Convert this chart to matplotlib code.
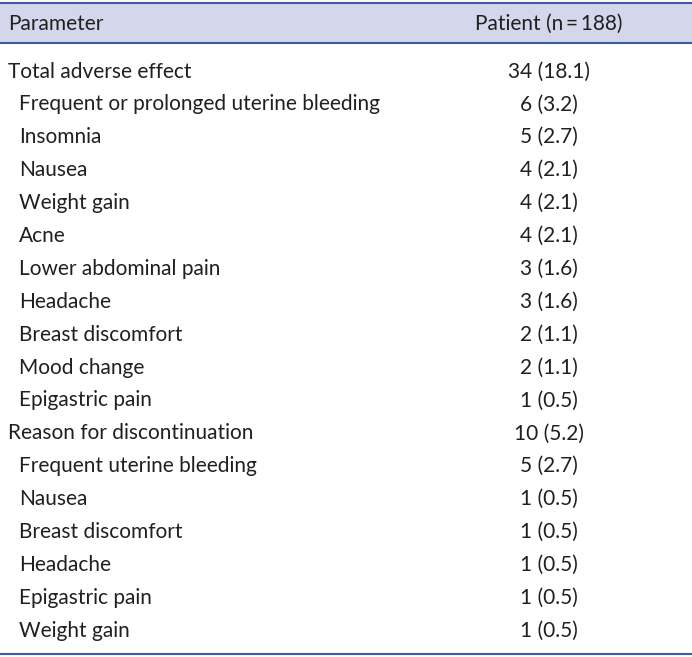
import matplotlib.pyplot as plt
from matplotlib.patches import Rectangle

params = ["Total adverse effect",
          "Frequent or prolonged uterine bleeding", "Insomnia", "Nausea",
          "Weight gain", "Acne", "Lower abdominal pain", "Headache",
          "Breast discomfort", "Mood change", "Epigastric pain",
          "Reason for discontinuation",
          "Frequent uterine bleeding", "Nausea", "Breast discomfort",
          "Headache", "Epigastric pain", "Weight gain"]
values = ["34 (18.1)", "6 (3.2)", "5 (2.7)", "4 (2.1)", "4 (2.1)", "4 (2.1)",
          "3 (1.6)", "3 (1.6)", "2 (1.1)", "2 (1.1)", "1 (0.5)",
          "10 (5.2)", "5 (2.7)", "1 (0.5)", "1 (0.5)", "1 (0.5)", "1 (0.5)",
          "1 (0.5)"]
group_rows = [0, 11]  # not indented

W, H = 692, 657
fig = plt.figure(figsize=(W / 100, H / 100), dpi=100)
ax = fig.add_axes([0, 0, 1, 1])
ax.set_xlim(0, W)
ax.set_ylim(H, 0)
ax.axis('off')

font = ['Lato', 'DejaVu Sans']
fs = 15
txt_col = '#231f20'
line_col = '#3d5c99'

# header band
ax.add_patch(Rectangle((0, 3), W, 40, facecolor='#d4d7ec', edgecolor='none'))
ax.plot([0, W], [3, 3], color=line_col, lw=1.5)
ax.plot([0, W], [43, 43], color=line_col, lw=1.5)
ax.plot([0, W], [654, 654], color=line_col, lw=1.5)

ax.text(8, 24, "Parameter", fontsize=fs, family=font, va='center', color=txt_col)
ax.text(549, 24, "Patient (n\u2009=\u2009188)", fontsize=fs, family=font,
        va='center', ha='center', color=txt_col)

for i, (p, v) in enumerate(zip(params, values)):
    y = 71.5 + i * 32.9
    x = 8 if i in group_rows else 19
    ax.text(x, y, p, fontsize=fs, family=font, va='center', color=txt_col)
    ax.text(549, y, v, fontsize=fs, family=font, va='center', ha='center', color=txt_col)

fig.savefig('out.png', dpi=100)
